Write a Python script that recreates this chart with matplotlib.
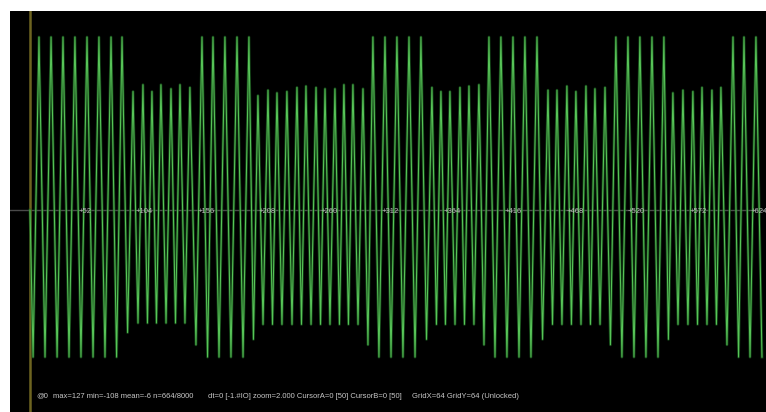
import matplotlib.pyplot as plt
import numpy as np

# sample positions of the positive peaks
peak_pos = [7.6, 17.8, 27.9, 38.0, 48.2, 58.3, 68.5, 77.8,
            87.1, 95.5, 103.1, 110.7, 119.2, 126.8, 135.2,
            145.4, 154.7, 164.8, 175.0, 185.1,
            192.7, 201.2, 208.8, 217.2, 225.7, 233.3, 241.8, 249.4, 257.8, 265.4, 273.0, 281.5,
            289.9, 300.1, 310.2, 320.4, 330.5,
            339.8, 347.4, 355.0, 363.5, 371.1, 379.5,
            388.0, 398.1, 408.3, 418.4, 428.6,
            437.9, 445.5, 453.9, 461.5, 470.0, 477.6, 486.1,
            495.3, 505.5, 515.6, 525.8, 535.9,
            543.5, 552.0, 560.4, 568.1, 576.5, 584.1,
            594.3, 603.6, 613.7]
peak_val = [127, 127, 127, 127, 127, 127, 127, 127,
            87, 92, 87, 92, 89, 92, 90,
            127, 127, 127, 127, 127,
            84, 88, 86, 87, 90, 91, 90, 89, 89, 92, 92, 89,
            127, 127, 127, 127, 127,
            90, 87, 87, 90, 91, 92,
            127, 127, 127, 127, 127,
            88, 88, 91, 87, 91, 89, 90,
            127, 127, 127, 127, 127,
            86, 88, 87, 90, 88, 90,
            127, 127, 127]
# negative troughs, one ahead of each peak, plus the last one
trough_pos = [2.6, 12.7, 22.9, 33.0, 43.1, 53.3, 63.4, 73.2,
              82.5, 91.3, 99.3, 106.9, 115.0, 123.0, 131.0,
              140.3, 150.1, 159.8, 169.9, 180.1,
              188.9, 197.0, 205.0, 213.0, 221.5, 229.5, 237.6, 245.6, 253.6, 261.6, 269.2, 277.3,
              285.7, 295.0, 305.2, 315.3, 325.5,
              335.2, 343.6, 351.2, 359.3, 367.3, 375.3,
              383.8, 393.1, 403.2, 413.4, 423.5,
              433.3, 441.7, 449.7, 457.7, 465.8, 473.8, 481.9,
              490.7, 500.4, 510.6, 520.7, 530.9,
              539.7, 547.8, 556.2, 564.3, 572.3, 580.3,
              589.2, 599.0, 608.7, 618.8]
trough_val = [-108, -108, -108, -108, -108, -108, -108, -108,
              -90, -83, -83, -83, -83, -83, -83,
              -99, -108, -108, -108, -108,
              -95, -84, -84, -84, -84, -84, -84, -84, -84, -84, -84, -84,
              -99, -108, -108, -108, -108,
              -95, -84, -84, -84, -84, -84,
              -99, -108, -108, -108, -108,
              -95, -84, -84, -84, -84, -84, -84,
              -99, -108, -108, -108, -108,
              -95, -84, -84, -84, -84, -84,
              -99, -108, -108, -108]
tick_pos = [52, 104, 156, 208, 260, 312, 364, 416, 468, 520, 572, 624]

# interleave troughs and peaks into one trace
xs, ys = [0.0], [0.0]
for i in range(len(peak_pos)):
    xs += [trough_pos[i], peak_pos[i]]
    ys += [trough_val[i], peak_val[i]]
xs.append(trough_pos[-1])
ys.append(trough_val[-1])

fig = plt.figure(figsize=(7.66, 4.12), dpi=100)
fig.patch.set_facecolor('white')
ax = fig.add_axes([10 / 766, 0, 756 / 766, 401 / 412])
ax.set_facecolor('black')
ax.set_xlim(-16.9, 622.2)
ax.set_ylim(-148.3, 146.1)
ax.set_axis_off()
ax.add_patch(plt.Rectangle((0, 0), 1, 1, transform=ax.transAxes, color='black', zorder=0))

ax.axhline(0, color='#4a4a4a', lw=1.0, zorder=1)
ax.axvline(0, color='#6e6420', lw=1.8, zorder=2)

ax.plot(xs, ys, color='#1a5e1f', lw=2.0, alpha=0.7, zorder=3)
ax.plot(xs, ys, color='#58c458', lw=0.75, zorder=4)

for t in tick_pos:
    ax.text(t, -1, '+%d' % t, color='#b8b8b8', fontsize=5.5, family='Liberation Sans',
            ha='right', va='center', zorder=5)

sty = dict(color='#c8c8c8', fontsize=5.5, family='Liberation Sans', va='center')
fig.text(36 / 766, 1 - 396 / 412, '@0', **sty)
fig.text(53 / 766, 1 - 396 / 412, 'max=127 min=-108 mean=-6 n=664/8000', **sty)
fig.text(208 / 766, 1 - 396 / 412,
         'dt=0 [-1.#IO] zoom=2.000 CursorA=0 [50] CursorB=0 [50]', **sty)
fig.text(412 / 766, 1 - 396 / 412, 'GridX=64 GridY=64 (Unlocked)', **sty)

fig.savefig('out.png', dpi=100, facecolor='white')
